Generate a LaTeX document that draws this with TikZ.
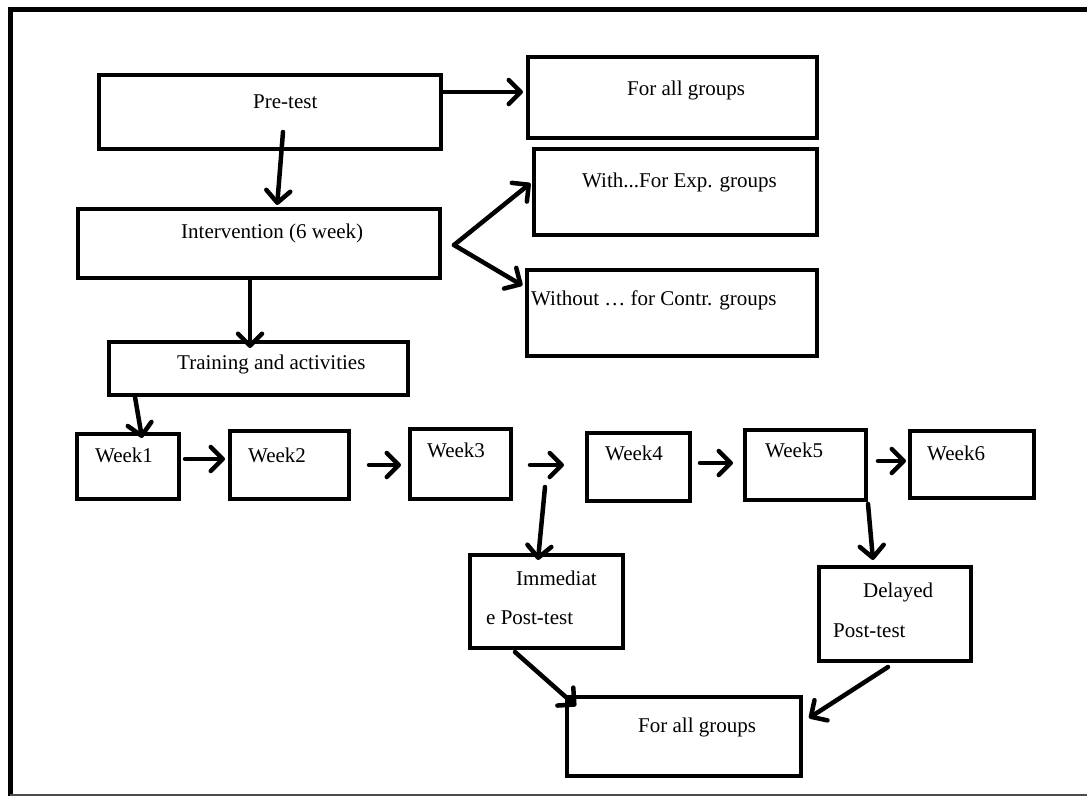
\documentclass[tikz,border=0pt]{standalone}
\usepackage{fontspec}
\setmainfont{Liberation Serif}
\usetikzlibrary{arrows.meta}
\begin{document}
\begin{tikzpicture}[x=1pt,y=-1pt,
  box/.style={draw=black, line width=4pt, rectangle, inner sep=0pt},
  lbl/.style={anchor=base west, inner sep=0pt, font=\fontsize{21}{24}\selectfont},
  arr/.style={line width=4.5pt, line cap=round, -{Straight Barb[length=12pt,width=24pt,line cap=round,line join=round]}}
]
\useasboundingbox (0,0) rectangle (1087,796);
% outer frame
\draw[line width=5pt] (1087,9.5) -- (10.5,9.5) -- (10.5,796);
\draw[line width=1.8pt, black!70] (10,795) -- (1087,795);

% boxes
\node[box, minimum width=342pt, minimum height=74pt] (pre) at (270,112) {};
\node[box, minimum width=289pt, minimum height=81pt] (fag1) at (672.5,97.5) {};
\node[box, minimum width=283pt, minimum height=86pt] (with) at (675.5,192) {};
\node[box, minimum width=362pt, minimum height=69pt] (interv) at (259,243.5) {};
\node[box, minimum width=290pt, minimum height=86pt] (without) at (672,313) {};
\node[box, minimum width=299pt, minimum height=53pt] (train) at (258.5,368.5) {};
\node[box, minimum width=102pt, minimum height=65pt] (w1) at (128,466.5) {};
\node[box, minimum width=119pt, minimum height=68pt] (w2) at (289.5,465) {};
\node[box, minimum width=101pt, minimum height=70pt] (w3) at (460.5,464) {};
\node[box, minimum width=103pt, minimum height=68pt] (w4) at (638.5,467) {};
\node[box, minimum width=121pt, minimum height=70pt] (w5) at (805.5,465) {};
\node[box, minimum width=124pt, minimum height=67pt] (w6) at (972,464.5) {};
\node[box, minimum width=153pt, minimum height=93pt] (imm) at (546.5,601.5) {};
\node[box, minimum width=152pt, minimum height=94pt] (del) at (895,614) {};
\node[box, minimum width=234pt, minimum height=79pt] (fag2) at (684,736.5) {};

% texts
\node[lbl] (tpre) at (253,108) {Pre-test};
\node[lbl] (tfag1) at (627,95) {For all groups};
\node[lbl] (twith) at (582,187) {With...For Exp. groups};
\node[lbl] (tint) at (181,238) {Intervention (6 week)};
\node[lbl] (two) at (531,305) {Without … for Contr. groups};
\node[lbl] (ttr) at (177,369) {Training and activities};
\node[lbl] (tw1) at (95,462) {Week1};
\node[lbl] (tw2) at (248,462) {Week2};
\node[lbl] (tw3) at (427,457) {Week3};
\node[lbl] (tw4) at (605,460) {Week4};
\node[lbl] (tw5) at (765,457) {Week5};
\node[lbl] (tw6) at (927,460) {Week6};
\node[lbl] (timm1) at (516,585) {Immediat};
\node[lbl] (timm2) at (486,624) {e Post-test};
\node[lbl] (tdel1) at (863,597) {Delayed};
\node[lbl] (tdel2) at (833,637) {Post-test};
\node[lbl] (tfag2) at (638,732) {For all groups};

% free coordinates
\coordinate (gap) at (564,465);
\coordinate (split) at (545,487);

% connectors
\draw[arr, shorten >=3pt] ([yshift=20pt]pre.east) -- ([yshift=5.5pt]fag1.west);
\draw[arr, shorten >=2pt] ([xshift=13pt,yshift=19pt]pre.south) -- ([xshift=18pt]interv.north);
\draw[arr, shorten >=2pt] ([xshift=12pt,yshift=-1.5pt]interv.east) -- ([yshift=10pt]with.west);
\draw[arr, shorten >=3pt] ([xshift=12pt,yshift=-1.5pt]interv.east) -- ([yshift=26pt]without.west);
\draw[arr] ([xshift=-9pt]interv.south) -- ([xshift=-8.5pt,yshift=-8pt]train.north);
\draw[arr] ([xshift=-123.5pt]train.south) -- ([xshift=14pt,yshift=-6pt]w1.north);
\draw[arr, shorten >=3pt] ([xshift=4pt,yshift=7.5pt]w1.east) -- ([yshift=6pt]w2.west);
\draw[arr, shorten >=7pt] ([xshift=18pt]w2.east) -- ([yshift=-1pt]w3.west);
\draw[arr] ([xshift=17pt,yshift=-1pt]w3.east) -- (gap);
\draw[arr, shorten >=10pt] ([xshift=8pt,yshift=4pt]w4.east) -- ([yshift=2pt]w5.west);
\draw[arr, shorten >=2pt] ([xshift=10pt,yshift=4pt]w5.east) -- ([yshift=3.5pt]w6.west);
\draw[arr] (split) -- ([xshift=-8.5pt,yshift=-7pt]imm.north);
\draw[arr] ([yshift=-2pt]w5.south east) -- ([xshift=-22pt,yshift=5pt]del.north);
\draw[arr] ([xshift=-31.5pt,yshift=-2pt]imm.south) -- ([xshift=11pt,yshift=-11pt]fag2.north west);
\draw[arr] ([xshift=-7pt,yshift=-4pt]del.south) -- ([xshift=6pt,yshift=18.5pt]fag2.east);
\end{tikzpicture}
\end{document}
